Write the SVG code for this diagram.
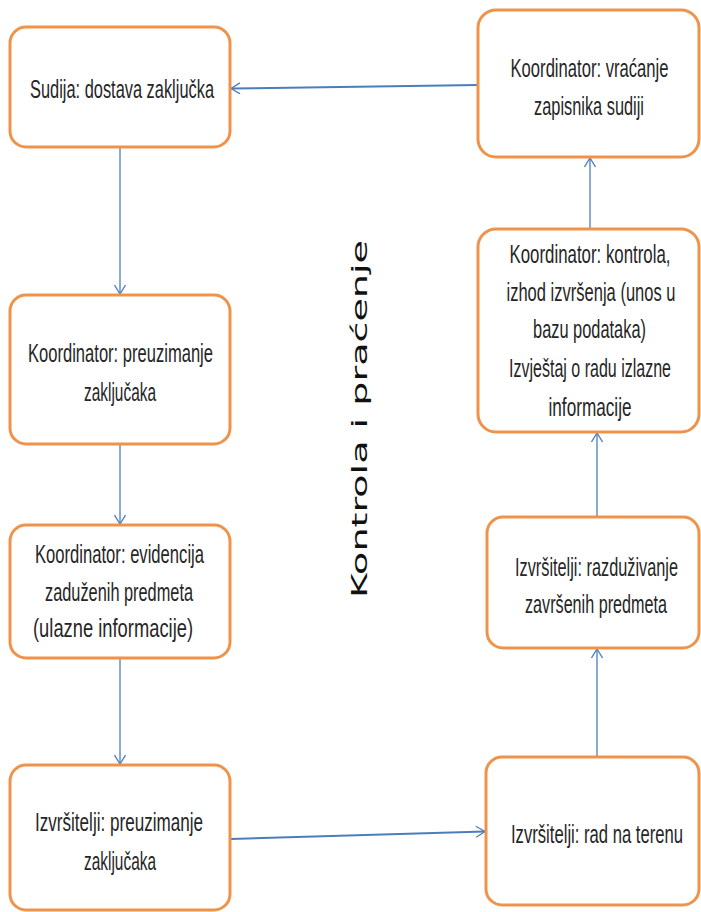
<svg xmlns="http://www.w3.org/2000/svg" width="701" height="912" viewBox="0 0 701 912">
<style>
.box{fill:#ffffff;stroke:#F0934A;stroke-width:3}
.t{font-family:"Liberation Sans",Arial,sans-serif;font-size:25px;fill:#262626;text-anchor:middle}
.c{stroke:#4A7EBB;stroke-width:1.3;fill:none}
.ch{stroke:#4A7EBB;stroke-width:2;fill:none}
.lbl{font-family:"DejaVu Sans",Verdana,sans-serif;font-size:21px;fill:#111;text-anchor:middle}
</style>
<defs>
<marker id="arr" markerWidth="12" markerHeight="12" refX="10" refY="6" orient="auto" markerUnits="userSpaceOnUse">
<path d="M1,0.5 L10,6 L1,11.5" fill="none" stroke="#4A7EBB" stroke-width="1.3"/>
</marker>
</defs>
<rect width="701" height="912" fill="#ffffff"/>
<g id="connectors">
<line class="ch" x1="478" y1="85" x2="231" y2="88.5" marker-end="url(#arr)"/>
<line class="c" x1="120" y1="148" x2="120" y2="294" marker-end="url(#arr)"/>
<line class="c" x1="120" y1="445" x2="120" y2="524" marker-end="url(#arr)"/>
<line class="c" x1="120" y1="659" x2="120" y2="764" marker-end="url(#arr)"/>
<line class="ch" x1="231" y1="839" x2="485" y2="831.5" marker-end="url(#arr)"/>
<line class="c" x1="597" y1="756" x2="597" y2="649" marker-end="url(#arr)"/>
<line class="c" x1="597" y1="516" x2="597" y2="433" marker-end="url(#arr)"/>
<line class="c" x1="590" y1="228" x2="590" y2="158" marker-end="url(#arr)"/>
</g>
<g id="n1">
<rect class="box" x="10" y="27" width="220" height="120" rx="16"/>
<text class="t" transform="translate(122,98) scale(0.6,1)" textLength="306.7" lengthAdjust="spacingAndGlyphs">Sudija: dostava zaključka</text>
</g>
<g id="n2">
<rect class="box" x="10" y="295" width="220" height="149" rx="16"/>
<text class="t" transform="translate(120.5,362) scale(0.6,1)" textLength="308.3" lengthAdjust="spacingAndGlyphs">Koordinator: preuzimanje</text>
<text class="t" transform="translate(120,401) scale(0.6,1)" textLength="120" lengthAdjust="spacingAndGlyphs">zaključaka</text>
</g>
<g id="n3">
<rect class="box" x="10" y="525" width="220" height="133" rx="16"/>
<text class="t" transform="translate(119.5,563) scale(0.6,1)" textLength="281.7" lengthAdjust="spacingAndGlyphs">Koordinator: evidencija</text>
<text class="t" transform="translate(119,601) scale(0.6,1)" textLength="246.7" lengthAdjust="spacingAndGlyphs">zaduženih predmeta</text>
<text class="t" transform="translate(113,637) scale(0.6,1)" textLength="266.7" lengthAdjust="spacingAndGlyphs">(ulazne informacije)</text>
</g>
<g id="n4">
<rect class="box" x="10" y="765" width="220" height="145" rx="16"/>
<text class="t" transform="translate(119,831) scale(0.6,1)" textLength="280" lengthAdjust="spacingAndGlyphs">Izvršitelji: preuzimanje</text>
<text class="t" transform="translate(120,870) scale(0.6,1)" textLength="120" lengthAdjust="spacingAndGlyphs">zaključaka</text>
</g>
<g id="n5">
<rect class="box" x="486" y="757" width="213" height="148" rx="16"/>
<text class="t" transform="translate(597,843) scale(0.6,1)" textLength="286.7" lengthAdjust="spacingAndGlyphs">Izvršitelji: rad na terenu</text>
</g>
<g id="n6">
<rect class="box" x="487" y="517" width="212" height="131" rx="16"/>
<text class="t" transform="translate(596.5,576) scale(0.6,1)" textLength="271.7" lengthAdjust="spacingAndGlyphs">Izvršitelji: razduživanje</text>
<text class="t" transform="translate(596,613) scale(0.6,1)" textLength="236.7" lengthAdjust="spacingAndGlyphs">završenih predmeta</text>
</g>
<g id="n7">
<rect class="box" x="478" y="229" width="221" height="203" rx="18"/>
<text class="t" transform="translate(590,262.5) scale(0.6,1)" textLength="268.3" lengthAdjust="spacingAndGlyphs">Koordinator: kontrola,</text>
<text class="t" transform="translate(591,300.5) scale(0.6,1)" textLength="281.7" lengthAdjust="spacingAndGlyphs">izhod izvršenja (unos u</text>
<text class="t" transform="translate(589.5,338) scale(0.6,1)" textLength="188.3" lengthAdjust="spacingAndGlyphs">bazu podataka)</text>
<text class="t" transform="translate(590,377) scale(0.6,1)" textLength="270" lengthAdjust="spacingAndGlyphs">Izvještaj o radu izlazne</text>
<text class="t" transform="translate(590,416) scale(0.6,1)" textLength="138.3" lengthAdjust="spacingAndGlyphs">informacije</text>
</g>
<g id="n8">
<rect class="box" x="478" y="10" width="221" height="147" rx="18"/>
<text class="t" transform="translate(589.5,77) scale(0.6,1)" textLength="263.3" lengthAdjust="spacingAndGlyphs">Koordinator: vraćanje</text>
<text class="t" transform="translate(589,115) scale(0.6,1)" textLength="183.3" lengthAdjust="spacingAndGlyphs">zapisnika sudiji</text>
</g>
<g id="label">
<text class="lbl" transform="translate(367,419) rotate(-90)" x="0" y="0" textLength="358" lengthAdjust="spacingAndGlyphs">Kontrola i praćenje</text>
</g>
</svg>
